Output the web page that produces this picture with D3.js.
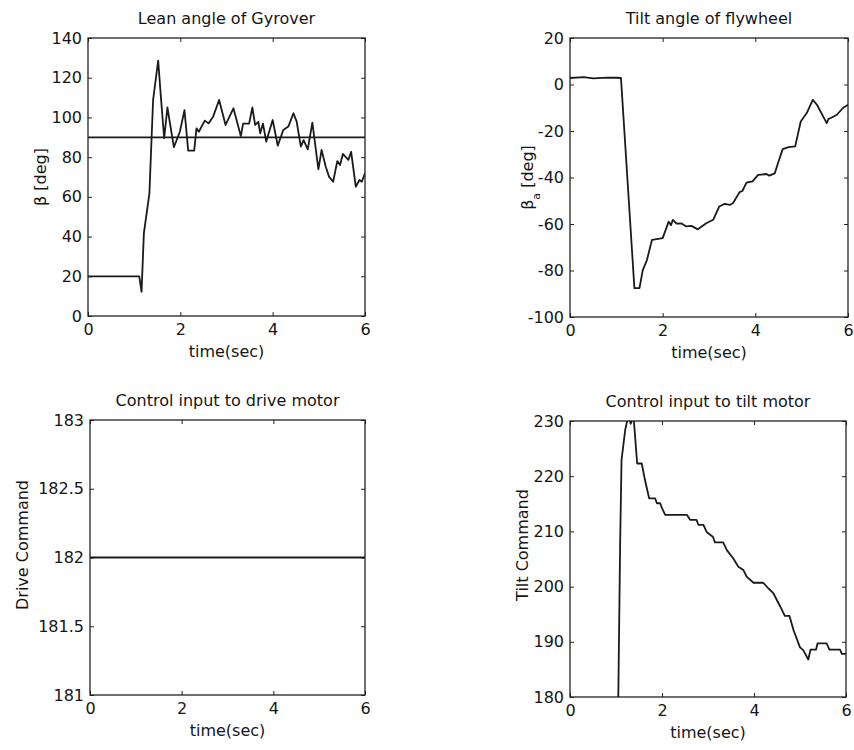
<!DOCTYPE html>
<html>
<head>
<meta charset="utf-8">
<script src="https://cdn.jsdelivr.net/npm/d3@7"></script>
<style>
  body { margin: 0; background: #fff; }
  text { font-family: "DejaVu Sans", sans-serif; fill: #151515; }
  .box { fill: none; stroke: #222; stroke-width: 1.3; }
  .axis path { display: none; }
  .axis line { stroke: #222; stroke-width: 1; }
  .trace { fill: none; stroke: #1a1a1a; stroke-width: 1.8; stroke-linejoin: round; }
</style>
</head>
<body>
<svg id="chart"></svg>
<script>
// time axis shared by all four panels
const timeTicks = [0, 2, 4, 6];

// lean angle of Gyrover [time, deg]
const leanAngle = [
  [0, 20], [1.11, 20], [1.16, 12.2], [1.21, 41.6], [1.33, 61.8], [1.41, 108.8],
  [1.52, 128.6], [1.58, 110], [1.65, 89.5], [1.72, 105], [1.86, 85], [1.99, 92.8],
  [2.09, 103.7], [2.17, 83.3], [2.30, 83.3], [2.35, 94.5], [2.40, 92.8], [2.53, 98.4],
  [2.61, 97], [2.71, 100.4], [2.84, 108.8], [2.98, 96.2], [3.15, 104.6], [3.31, 90.6],
  [3.36, 96.9], [3.49, 96.9], [3.56, 105], [3.62, 96.2], [3.69, 97.8], [3.73, 92],
  [3.79, 96.9], [3.86, 87.8], [4.00, 98.7], [4.11, 85.8], [4.23, 93.7], [4.34, 95.4],
  [4.45, 102.1], [4.52, 97.9], [4.61, 85.3], [4.67, 88.6], [4.76, 83.9], [4.86, 97.4],
  [4.99, 73.9], [5.06, 83.6], [5.15, 75.2], [5.22, 70.2], [5.31, 67.6], [5.40, 78],
  [5.46, 76], [5.52, 81.6], [5.64, 78.6], [5.70, 82.7], [5.80, 65.1], [5.88, 68.5],
  [5.93, 67.6], [6.00, 71.9]
];
const leanReference = 90;
const leanTicks = [0, 20, 40, 60, 80, 100, 120, 140];

// tilt angle of flywheel [time, deg]
const tiltAngle = [
  [0, 2.8], [0.3, 3.2], [0.5, 2.6], [0.8, 3.0], [1.0, 2.9], [1.10, 2.8],
  [1.39, -87.6], [1.50, -87.6], [1.57, -79.8], [1.66, -75.5], [1.77, -66.8], [2.0, -66.1],
  [2.13, -59], [2.18, -60.5], [2.22, -58.2], [2.30, -59.8], [2.40, -59.7], [2.50, -61],
  [2.62, -60.8], [2.76, -62.3], [2.94, -59.7], [3.09, -58.2], [3.22, -52.5], [3.34, -51.3],
  [3.45, -51.8], [3.52, -51], [3.66, -46.3], [3.72, -45.8], [3.81, -42.2], [3.94, -41.7],
  [4.06, -38.9], [4.24, -38.5], [4.30, -39.2], [4.42, -38.2], [4.49, -33.8], [4.59, -27.8],
  [4.72, -26.9], [4.86, -26.6], [4.98, -15.9], [5.11, -12.3], [5.24, -6.6], [5.33, -8.7],
  [5.54, -16.6], [5.58, -14.8], [5.63, -14.4], [5.76, -13], [5.89, -10.1], [6.0, -8.7]
];
const tiltTicks = [-100, -80, -60, -40, -20, 0, 20];

// control input to drive motor
const driveCommand = [[0, 182], [6, 182]];
const driveTicks = [181, 181.5, 182, 182.5, 183];

// control input to tilt motor
const tiltCommand = [
  [1.05, 180], [1.09, 207.8], [1.12, 222.9], [1.20, 228.4], [1.27, 231], [1.32, 229.5],
  [1.38, 231], [1.46, 222.3], [1.56, 222.3], [1.63, 219.3], [1.72, 216], [1.85, 216],
  [1.89, 215.1], [1.96, 215.1], [2.0, 214.2], [2.07, 213], [2.54, 213], [2.61, 212.1],
  [2.75, 212.1], [2.79, 211.2], [2.90, 211.2], [2.97, 209.9], [3.11, 209], [3.15, 208],
  [3.33, 208], [3.41, 206.6], [3.55, 205.1], [3.66, 203.6], [3.77, 203], [3.84, 201.8],
  [3.99, 200.7], [4.20, 200.7], [4.31, 199.7], [4.42, 198.8], [4.57, 196.4], [4.67, 194.7],
  [4.77, 194.7], [4.86, 192.1], [5.0, 189], [5.07, 188.5], [5.18, 186.8], [5.23, 188.6],
  [5.35, 188.6], [5.38, 189.7], [5.58, 189.7], [5.64, 188.6], [5.87, 188.6], [5.91, 187.8],
  [6.0, 187.8]
];
const tiltCmdTicks = [180, 190, 200, 210, 220, 230];

const width = 854, height = 750;
const svg = d3.select("#chart").attr("width", width).attr("height", height);

const panels = [
  { id: "lean", title: "Lean angle of Gyrover", ylabel: ["β [deg]"], data: leanAngle,
    ticks: leanTicks, x0: 88, x1: 365, y0: 38, y1: 316, ref: leanReference, labelX: 40 },
  { id: "tilt", title: "Tilt angle of flywheel", ylabel: ["β", "a", " [deg]"], data: tiltAngle,
    ticks: tiltTicks, x0: 570, x1: 848, y0: 38, y1: 317, labelX: 527 },
  { id: "drive", title: "Control input to drive motor", ylabel: ["Drive Command"], data: driveCommand,
    ticks: driveTicks, x0: 90, x1: 365, y0: 420, y1: 695, labelX: 22, labelY: 545 },
  { id: "tiltcmd", title: "Control input to tilt motor", ylabel: ["Tilt Command"], data: tiltCommand,
    ticks: tiltCmdTicks, x0: 570, x1: 846, y0: 421, y1: 697, labelX: 522, labelY: 545 }
];

panels.forEach(p => {
  const x = d3.scaleLinear().domain([0, 6]).range([p.x0, p.x1]);
  const y = d3.scaleLinear().domain(d3.extent(p.ticks)).range([p.y1, p.y0]);
  const g = svg.append("g");

  g.append("clipPath").attr("id", "clip-" + p.id)
    .append("rect")
    .attr("x", p.x0).attr("y", p.y0)
    .attr("width", p.x1 - p.x0).attr("height", p.y1 - p.y0);

  const fmt = d => String(d);

  g.append("g").attr("class", "axis")
    .attr("transform", `translate(0,${p.y1})`)
    .call(d3.axisBottom(x).tickValues(timeTicks).tickSize(-4).tickPadding(8).tickFormat(fmt));
  g.append("g").attr("class", "axis")
    .attr("transform", `translate(0,${p.y0})`)
    .call(d3.axisTop(x).tickValues(timeTicks).tickSize(-4).tickFormat(""));
  g.append("g").attr("class", "axis")
    .attr("transform", `translate(${p.x0},0)`)
    .call(d3.axisLeft(y).tickValues(p.ticks).tickSize(-4).tickPadding(6).tickFormat(fmt));
  g.append("g").attr("class", "axis")
    .attr("transform", `translate(${p.x1},0)`)
    .call(d3.axisRight(y).tickValues(p.ticks).tickSize(-4).tickFormat(""));

  g.selectAll(".axis text").style("font-size", "16px").attr("fill", "#151515");

  g.append("rect").attr("class", "box")
    .attr("x", p.x0).attr("y", p.y0)
    .attr("width", p.x1 - p.x0).attr("height", p.y1 - p.y0);

  if (p.ref !== undefined) {
    g.append("line").attr("class", "trace")
      .attr("x1", x(0)).attr("x2", x(6))
      .attr("y1", y(p.ref)).attr("y2", y(p.ref));
  }

  const line = d3.line().x(d => x(d[0])).y(d => y(d[1]));
  g.append("path").datum(p.data)
    .attr("class", "trace")
    .attr("clip-path", `url(#clip-${p.id})`)
    .attr("d", line);

  g.append("text")
    .attr("x", (p.x0 + p.x1) / 2).attr("y", p.y0 - 14)
    .attr("text-anchor", "middle")
    .style("font-size", "16px")
    .text(p.title);

  g.append("text")
    .attr("x", (p.x0 + p.x1) / 2).attr("y", p.y1 + 41)
    .attr("text-anchor", "middle")
    .style("font-size", "16px")
    .text("time(sec)");

  const ly = p.labelY || (p.y0 + p.y1) / 2;
  const yl = g.append("text")
    .attr("transform", `translate(${p.labelX},${ly}) rotate(-90)`)
    .attr("text-anchor", "middle")
    .attr("dy", "0.35em")
    .style("font-size", "16px");
  if (p.ylabel.length === 1) {
    yl.text(p.ylabel[0]);
  } else {
    yl.append("tspan").text(p.ylabel[0]);
    yl.append("tspan").attr("baseline-shift", "sub").style("font-size", "11px").text(p.ylabel[1]);
    yl.append("tspan").text(p.ylabel[2]);
  }
});
</script>
</body>
</html>
